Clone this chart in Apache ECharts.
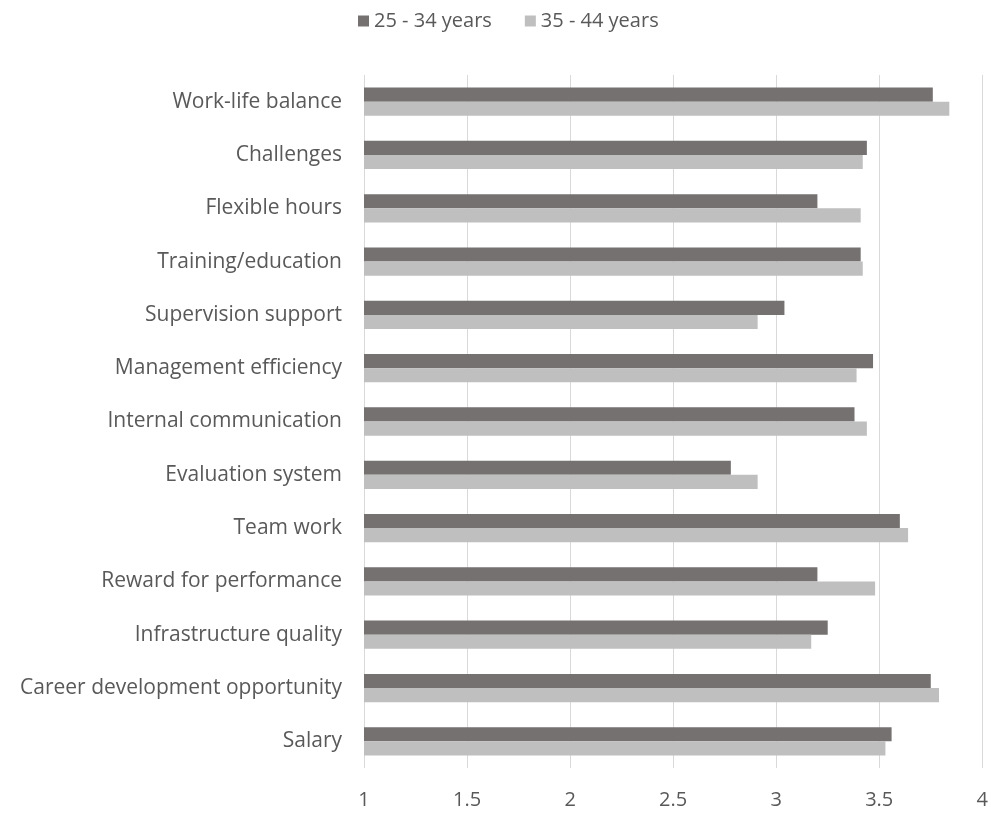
<!DOCTYPE html>
<html>
<head>
<meta charset="utf-8">
<script src="https://cdn.jsdelivr.net/npm/echarts@6/dist/echarts.min.js"></script>
<style>
  html, body { margin: 0; padding: 0; background: #ffffff; }
  #chart { width: 991px; height: 814px; }
</style>
</head>
<body>
<div id="chart"></div>
<script>
// Categories listed bottom-to-top (category axis starts at the bottom)
const categories = [
  'Salary',
  'Career development opportunity',
  'Infrastructure quality',
  'Reward for performance',
  'Team work',
  'Evaluation system',
  'Internal communication',
  'Management efficiency',
  'Supervision support',
  'Training/education',
  'Flexible hours',
  'Challenges',
  'Work-life balance'
];

const seriesNames = ['25 - 34 years', '35 - 44 years'];

const age25to34 = [3.56, 3.75, 3.25, 3.20, 3.60, 2.78, 3.38, 3.47, 3.04, 3.41, 3.20, 3.44, 3.76];
const age35to44 = [3.53, 3.79, 3.17, 3.48, 3.64, 2.91, 3.44, 3.39, 2.91, 3.42, 3.41, 3.42, 3.84];

const xTicks = { min: 1, max: 4, interval: 0.5 };

const textColor = '#595959';
const fontFamily = '"Open Sans", Lato, sans-serif';

const chart = echarts.init(document.getElementById('chart'), null, { renderer: 'canvas' });

chart.setOption({
  animation: false,
  backgroundColor: '#ffffff',
  textStyle: { fontFamily: fontFamily },
  legend: {
    top: 6,
    left: 353,
    itemWidth: 11,
    itemHeight: 11,
    itemGap: 33,
    icon: 'rect',
    textStyle: { color: textColor, fontSize: 20, fontFamily: fontFamily },
    data: seriesNames
  },
  grid: {
    left: 364,
    right: 7,
    top: 75,
    bottom: 46,
    containLabel: false
  },
  xAxis: {
    type: 'value',
    min: xTicks.min,
    max: xTicks.max,
    interval: xTicks.interval,
    axisLine: { show: false },
    axisTick: { show: false },
    splitLine: { show: true, lineStyle: { color: '#d9d9d9', width: 1 } },
    axisLabel: {
      color: textColor,
      fontSize: 20,
      margin: 22,
      fontFamily: fontFamily
    }
  },
  yAxis: {
    type: 'category',
    data: categories,
    axisLine: { show: false },
    axisTick: { show: false },
    splitLine: { show: false },
    axisLabel: {
      color: textColor,
      fontSize: 21,
      margin: 22,
      fontFamily: fontFamily
    }
  },
  series: [
    {
      name: seriesNames[0],
      type: 'bar',
      data: age25to34,
      barGap: '0%',
      barCategoryGap: '47%',
      itemStyle: { color: '#767171' }
    },
    {
      name: seriesNames[1],
      type: 'bar',
      data: age35to44,
      barGap: '0%',
      barCategoryGap: '47%',
      itemStyle: { color: '#bfbfbf' }
    }
  ]
});
</script>
</body>
</html>
